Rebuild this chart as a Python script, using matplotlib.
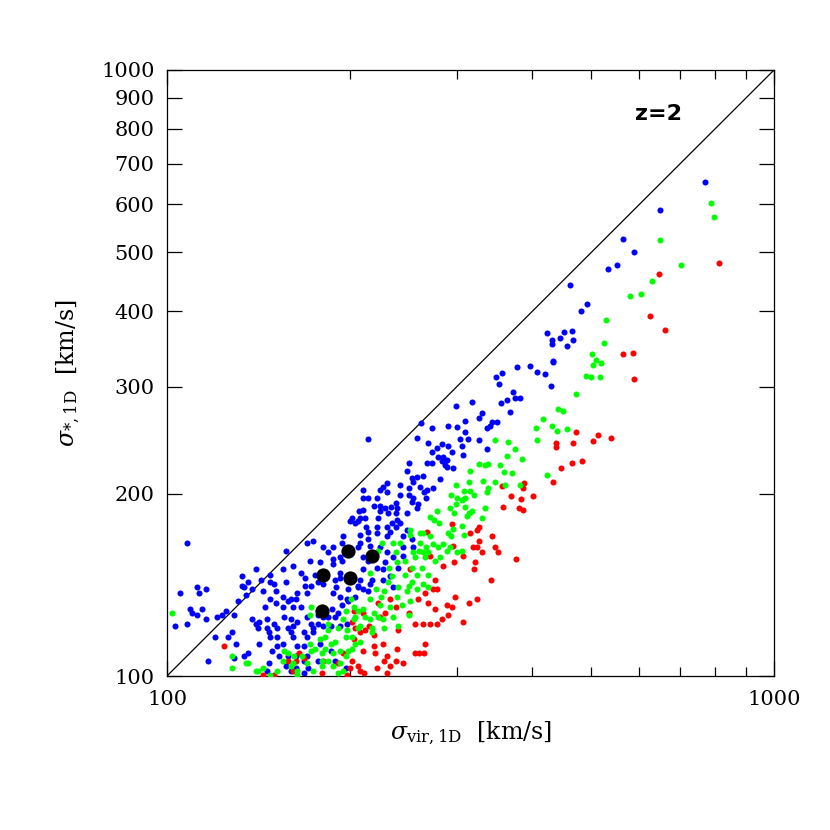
import matplotlib
matplotlib.use("Agg")
import matplotlib.pyplot as plt
import numpy as np
from matplotlib.ticker import FixedLocator, NullFormatter, FixedFormatter

# sigma_vir,1D [km/s] and sigma_*,1D [km/s]
blue_x = [108, 105, 103, 112, 116, 113, 109, 110, 114, 112, 108, 116, 121, 123, 125, 129, 120, 126, 128, 130,
          117, 129, 134, 136, 131, 133, 136, 133, 134, 138, 135, 144, 148, 148, 150, 157, 157, 164, 169, 169,
          170, 174, 181, 188, 195, 194, 188, 194, 179, 175, 177, 190, 193, 200, 206, 207, 204, 198, 145, 148,
          151, 155, 160, 163, 155, 161, 166, 138, 140, 142, 141, 146, 146, 150, 152, 156, 158, 161, 164, 170,
          173, 177, 177, 181, 148, 152, 155, 161, 164, 168, 170, 174, 142, 147, 152, 158, 153, 147, 157, 163,
          168, 170, 168, 146, 187, 189, 194, 199, 193, 198, 186, 181, 151, 158, 170, 173, 181, 188, 193, 199,
          206, 214, 160, 174, 184, 191, 160, 179, 149, 168, 171, 189, 186, 163, 214, 262, 273, 299, 318, 290,
          301, 310, 310, 304, 313, 258, 269, 273, 279, 284, 290, 295, 306, 280, 284, 289, 296, 287, 268, 273,
          250, 249, 253, 258, 254, 264, 261, 282, 268, 274, 265, 267, 230, 227, 224, 230, 242, 250, 250, 242,
          254, 253, 258, 249, 239, 238, 210, 210, 214, 222, 219, 224, 229, 234, 238, 231, 224, 210, 208, 202,
          204, 212, 213, 214, 223, 222, 230, 235, 239, 238, 245, 230, 222, 208, 214, 208, 206, 216, 193, 188,
          184, 210, 210, 222, 227, 233, 240, 254, 245, 230, 229, 224, 193, 189, 208, 218, 227, 377, 396, 433,
          348, 356, 352, 407, 420, 429, 372, 374, 382, 363, 355, 367, 330, 327, 343, 350, 341, 337, 327, 337,
          285, 307, 289, 770, 649, 564, 588, 533, 551, 461, 492, 481, 423, 431, 444, 451, 465, 467, 431, 456,
          433, 259, 233, 242, 249, 253, 245, 236, 214, 206, 210, 216, 161, 166, 155, 172, 143, 140, 177, 197,
          160, 236]
blue_y = [166, 137, 121, 140, 139, 137, 129, 127, 129, 126, 122, 124, 125, 126, 128, 126, 116, 116, 118, 113,
          106, 107, 108, 109, 133, 146, 143, 141, 140, 139, 136, 138, 147, 143, 142, 161, 143, 137, 145, 141,
          166, 167, 163, 163, 170, 166, 156, 155, 154, 147, 143, 140, 145, 180, 180, 187, 135, 134, 130, 134,
          132, 135, 134, 134, 130, 130, 130, 124, 122, 123, 120, 124, 120, 122, 120, 125, 120, 121, 123, 125,
          122, 122, 126, 125, 116, 116, 113, 116, 112, 118, 116, 118, 113, 118, 112, 108, 108, 105, 104, 108,
          112, 108, 101, 102, 129, 125, 131, 133, 121, 122, 121, 121, 138, 133, 137, 141, 142, 137, 135, 139,
          140, 138, 124, 120, 125, 127, 118, 113, 110, 106, 103, 106, 110, 103, 246, 262, 257, 279, 283, 259,
          258, 264, 253, 246, 246, 247, 242, 234, 238, 241, 240, 234, 240, 230, 226, 227, 220, 223, 225, 225,
          225, 218, 212, 213, 209, 214, 205, 211, 203, 204, 201, 197, 208, 205, 203, 201, 207, 204, 199, 199,
          197, 194, 189, 186, 189, 193, 203, 197, 197, 197, 191, 191, 189, 190, 186, 186, 187, 188, 182, 182,
          179, 182, 176, 173, 182, 176, 176, 179, 181, 176, 170, 170, 172, 171, 168, 166, 163, 164, 157, 153,
          160, 157, 150, 151, 150, 146, 151, 163, 163, 160, 154, 163, 148, 144, 144, 144, 144, 324, 325, 330,
          311, 316, 303, 317, 315, 301, 294, 288, 288, 285, 282, 273, 272, 267, 263, 263, 259, 257, 245, 237,
          230, 232, 221, 653, 587, 526, 501, 469, 477, 442, 411, 400, 368, 358, 361, 370, 371, 358, 353, 350,
          331, 192, 173, 179, 174, 168, 158, 157, 155, 141, 139, 142, 152, 148, 150, 155, 144, 150, 106, 103,
          102, 140]

green_x = [788, 797, 649, 703, 630, 579, 604, 529, 525, 501, 509, 519, 503, 490, 500, 517, 472, 441, 449, 416,
           406, 431, 439, 456, 407, 347, 365, 374, 363, 385, 327, 334, 338, 354, 359, 370, 423, 316, 332, 347,
           361, 382, 299, 315, 316, 309, 338, 337, 321, 294, 301, 310, 299, 293, 310, 334, 297, 279, 315, 312,
           330, 275, 281, 306, 296, 261, 264, 294, 309, 261, 274, 285, 267, 280, 293, 301, 306, 254, 264, 269,
           318, 271, 290, 271, 289, 251, 236, 242, 226, 223, 260, 266, 276, 256, 247, 238, 239, 232, 253, 263,
           269, 258, 247, 235, 253, 264, 269, 258, 249, 240, 231, 228, 225, 239, 251, 221, 216, 224, 233, 244,
           250, 236, 227, 219, 212, 204, 208, 218, 228, 197, 208, 202, 197, 193, 188, 195, 191, 184, 182, 186,
           189, 179, 175, 180, 174, 170, 167, 164, 160, 158, 155, 184, 191, 198, 202, 195, 203, 210, 223, 240,
           250, 216, 218, 172, 102, 128, 128, 135, 141, 144, 148, 156, 161, 180, 188, 199, 204, 197, 172, 184,
           203, 201, 173, 162, 173, 193, 182, 206, 206, 136, 140, 152, 180, 164, 282, 306, 251, 216]
green_y = [603, 572, 524, 477, 448, 424, 427, 387, 354, 340, 332, 328, 326, 313, 311, 311, 292, 276, 274, 266,
           257, 259, 254, 256, 245, 245, 243, 237, 231, 228, 224, 223, 224, 223, 217, 216, 215, 218, 210, 209,
           207, 207, 207, 209, 202, 202, 204, 201, 199, 199, 197, 197, 192, 189, 190, 189, 186, 187, 186, 184,
           182, 181, 179, 177, 175, 172, 172, 170, 171, 166, 165, 165, 163, 163, 163, 160, 161, 160, 160, 160,
           187, 183, 172, 170, 161, 171, 166, 166, 166, 161, 161, 157, 155, 157, 155, 160, 154, 151, 151, 151,
           147, 147, 147, 146, 143, 142, 140, 139, 138, 140, 143, 138, 135, 135, 133, 139, 134, 131, 130, 131,
           126, 125, 124, 127, 125, 125, 121, 120, 120, 128, 114, 111, 108, 105, 104, 102, 101, 106, 111, 113,
           114, 115, 111, 106, 102, 105, 108, 102, 104, 109, 106, 119, 120, 119, 116, 124, 124, 129, 125, 121,
           141, 124, 118, 126, 127, 108, 103, 105, 102, 103, 100.5, 110, 105, 109, 109, 110, 113, 116, 113, 122,
           130, 134, 130, 108, 110, 110, 116, 120, 128, 105, 102, 102, 104, 100.5, 157, 195, 174, 148]

red_x = [812, 647, 625, 661, 564, 585, 587, 513, 503, 472, 467, 437, 437, 465, 483, 446, 433, 388, 356, 386,
         369, 401, 383, 358, 380, 386, 327, 324, 295, 316, 343, 327, 296, 319, 324, 330, 347, 351, 307, 376,
         285, 297, 322, 321, 342, 298, 268, 251, 271, 276, 279, 266, 259, 289, 269, 276, 315, 324, 290, 284,
         307, 256, 264, 271, 278, 238, 229, 224, 274, 250, 295, 266, 256, 260, 265, 239, 230, 228, 233, 238,
         245, 222, 230, 208, 211, 219, 220, 210, 202, 206, 240, 227, 233, 223, 203, 204, 208, 124, 158, 165,
         168, 161, 180, 191, 198, 203, 195, 163, 144, 150, 200, 212, 215, 219, 202, 210, 181, 539]
red_y = [480, 461, 393, 372, 340, 341, 309, 250, 244, 253, 242, 242, 239, 225, 226, 220, 209, 208, 206, 204,
         198, 198, 196, 190, 189, 188, 176, 174, 178, 172, 170, 167, 164, 163, 163, 160, 163, 160, 158, 156,
         152, 154, 154, 150, 144, 135, 173, 150, 158, 144, 139, 137, 134, 131, 132, 129, 132, 134, 126, 124,
         123, 122, 122, 122, 122, 130, 127, 125, 139, 127, 130, 113, 109, 109, 109, 111, 108, 106, 104, 106,
         105, 103, 101, 102, 101, 112, 109, 110, 106, 104, 119, 113, 134, 132, 128, 120, 118, 112, 106, 109,
         107, 102, 101, 105, 100.4, 115, 109, 106, 100.4, 100.4, 103, 119, 121, 117, 123, 127, 106, 247]

black_x = [199, 218, 181, 200, 180]
black_y = [161, 158, 147, 145, 128]

y_ticks = [100, 200, 300, 400, 500, 600, 700, 800, 900, 1000]
x_minor = [200, 300, 400, 500, 600, 700, 800, 900]

plt.rcParams["font.family"] = ["DejaVu Serif"]
plt.rcParams["mathtext.fontset"] = "dejavuserif"

fig = plt.figure(figsize=(8.3, 8.3), dpi=100)
ax = fig.add_axes([167 / 830, 1 - 676 / 830, 607 / 830, 606 / 830])

ax.plot([100, 1000], [100, 1000], color="k", lw=0.9, zorder=1)
ax.scatter(blue_x, blue_y, s=19, c="#0000ff", linewidths=0, zorder=2)
ax.scatter(red_x, red_y, s=19, c="#ff0000", linewidths=0, zorder=3)
ax.scatter(green_x, green_y, s=19, c="#00ff00", linewidths=0, zorder=4)
ax.scatter(black_x, black_y, s=105, c="k", linewidths=0, zorder=5)

ax.set_xscale("log")
ax.set_yscale("log")
ax.set_xlim(100, 1000)
ax.set_ylim(100, 1000)

ax.xaxis.set_major_locator(FixedLocator([100, 1000]))
ax.xaxis.set_major_formatter(FixedFormatter(["100", "1000"]))
ax.xaxis.set_minor_locator(FixedLocator(x_minor))
ax.xaxis.set_minor_formatter(NullFormatter())
ax.yaxis.set_major_locator(FixedLocator(y_ticks))
ax.yaxis.set_major_formatter(FixedFormatter([str(v) for v in y_ticks]))
ax.yaxis.set_minor_locator(FixedLocator([]))

ax.tick_params(which="both", direction="in", top=True, right=True, labelsize=15, width=0.9)
ax.tick_params(axis="y", which="major", length=11, pad=9)
ax.tick_params(axis="x", which="major", length=11, pad=10)
ax.tick_params(axis="x", which="minor", length=6.5)
for sp in ax.spines.values():
    sp.set_linewidth(0.9)

ax.set_xlabel(r"$\sigma_{\mathrm{vir,1D}}$  [km/s]", fontsize=17, labelpad=8)
ax.set_ylabel(r"$\sigma_{*,\mathrm{1D}}$  [km/s]", fontsize=17, labelpad=14)

ax.text(0.809, 0.927, "z=2", transform=ax.transAxes, ha="center", va="center",
        fontsize=16, fontweight="bold", family="DejaVu Sans")

fig.savefig("out.png", dpi=100)
